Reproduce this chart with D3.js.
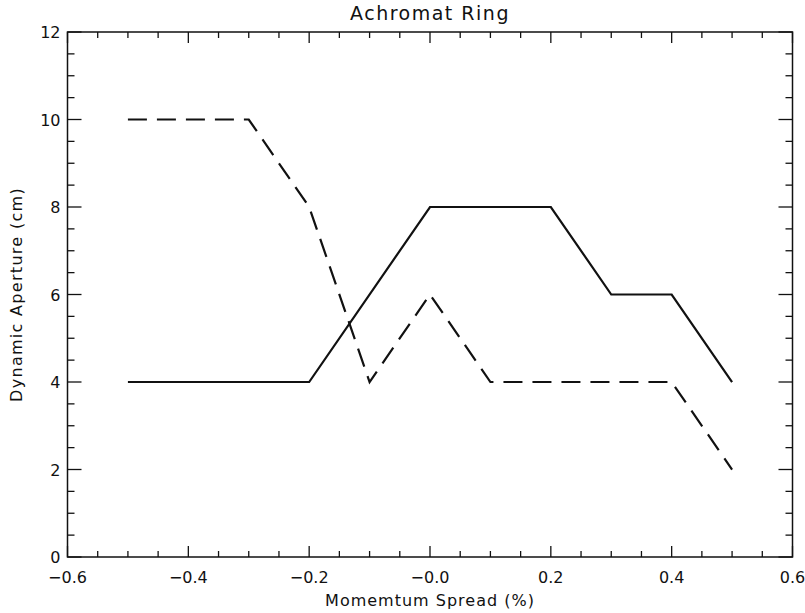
<!DOCTYPE html>
<html>
<head>
<meta charset="utf-8">
<script src="https://cdn.jsdelivr.net/npm/d3@7"></script>
<style>
  body { margin: 0; background: #fff; }
  text { font-family: "DejaVu Sans", sans-serif; fill: #111; }
</style>
</head>
<body>
<script>
// momentum spread (%) and dynamic aperture (cm)
const solidX = [-0.5, -0.2, 0.0, 0.2, 0.3, 0.4, 0.5];
const solidY = [4, 4, 8, 8, 6, 6, 4];
const dashX = [-0.5, -0.3, -0.2, -0.1, 0.0, 0.1, 0.4, 0.5];
const dashY = [10, 10, 8, 4, 6, 4, 4, 2];
const xTicks = [-0.6, -0.4, -0.2, 0.0, 0.2, 0.4, 0.6];
const yTicks = [0, 2, 4, 6, 8, 10, 12];

const W = 805, H = 613;
const margin = {top: 32, right: 12.5, bottom: 56, left: 67.5};

const svg = d3.select('body').append('svg')
  .attr('width', W)
  .attr('height', H);

const x = d3.scaleLinear().domain([-0.6, 0.6]).range([margin.left, W - margin.right]);
const y = d3.scaleLinear().domain([0, 12]).range([H - margin.bottom, margin.top]);

const fmtX = d => (d === 0 ? '\u22120.0' : d3.format('.1f')(d).replace('-', '\u2212'));

// minor ticks
const xMinor = d3.range(-0.6, 0.6001, 0.05);
const yMinor = d3.range(0, 12.001, 0.5);

// frame
svg.append('rect')
  .attr('x', x(-0.6)).attr('y', y(12))
  .attr('width', x(0.6) - x(-0.6)).attr('height', y(0) - y(12))
  .attr('fill', 'none').attr('stroke', '#111').attr('stroke-width', 1.5);

const tickG = svg.append('g').attr('stroke', '#111').attr('stroke-width', 1.3);

// x ticks bottom and top (pointing inward)
xMinor.forEach(v => {
  const major = xTicks.some(t => Math.abs(t - v) < 1e-6);
  const len = major ? 11 : 6;
  tickG.append('line').attr('x1', x(v)).attr('x2', x(v)).attr('y1', y(0)).attr('y2', y(0) - len);
  tickG.append('line').attr('x1', x(v)).attr('x2', x(v)).attr('y1', y(12)).attr('y2', y(12) + len);
});
// y ticks left and right
yMinor.forEach(v => {
  const major = yTicks.some(t => Math.abs(t - v) < 1e-6);
  const len = major ? 14 : 7;
  tickG.append('line').attr('y1', y(v)).attr('y2', y(v)).attr('x1', x(-0.6)).attr('x2', x(-0.6) + len);
  tickG.append('line').attr('y1', y(v)).attr('y2', y(v)).attr('x1', x(0.6)).attr('x2', x(0.6) - len);
});

// tick labels
svg.append('g').selectAll('text')
  .data(xTicks).enter().append('text')
  .attr('x', d => x(d)).attr('y', y(0) + 26)
  .attr('text-anchor', 'middle')
  .attr('font-size', 16)
  .text(fmtX);

svg.append('g').selectAll('text')
  .data(yTicks).enter().append('text')
  .attr('x', x(-0.6) - 7).attr('y', d => y(d) + 6)
  .attr('text-anchor', 'end')
  .attr('font-size', 16)
  .text(d => d);

// titles
svg.append('text')
  .attr('x', (x(-0.6) + x(0.6)) / 2).attr('y', 20)
  .attr('text-anchor', 'middle').attr('font-size', 19)
  .attr('letter-spacing', 1.5)
  .text('Achromat Ring');

svg.append('text')
  .attr('x', (x(-0.6) + x(0.6)) / 2).attr('y', 606)
  .attr('text-anchor', 'middle').attr('font-size', 16)
  .attr('letter-spacing', 1)
  .text('Momemtum Spread (%)');

svg.append('text')
  .attr('transform', `translate(22, ${(y(0) + y(12)) / 2}) rotate(-90)`)
  .attr('text-anchor', 'middle').attr('font-size', 16)
  .attr('letter-spacing', 1.3)
  .text('Dynamic Aperture (cm)');

// lines
const line = d3.line().x(d => x(d[0])).y(d => y(d[1]));

svg.append('path')
  .datum(d3.zip(solidX, solidY))
  .attr('d', line)
  .attr('fill', 'none').attr('stroke', '#111').attr('stroke-width', 2.2);

svg.append('path')
  .datum(d3.zip(dashX, dashY))
  .attr('d', line)
  .attr('fill', 'none').attr('stroke', '#111').attr('stroke-width', 2.2)
  .attr('stroke-dasharray', '19,10');
</script>
</body>
</html>
